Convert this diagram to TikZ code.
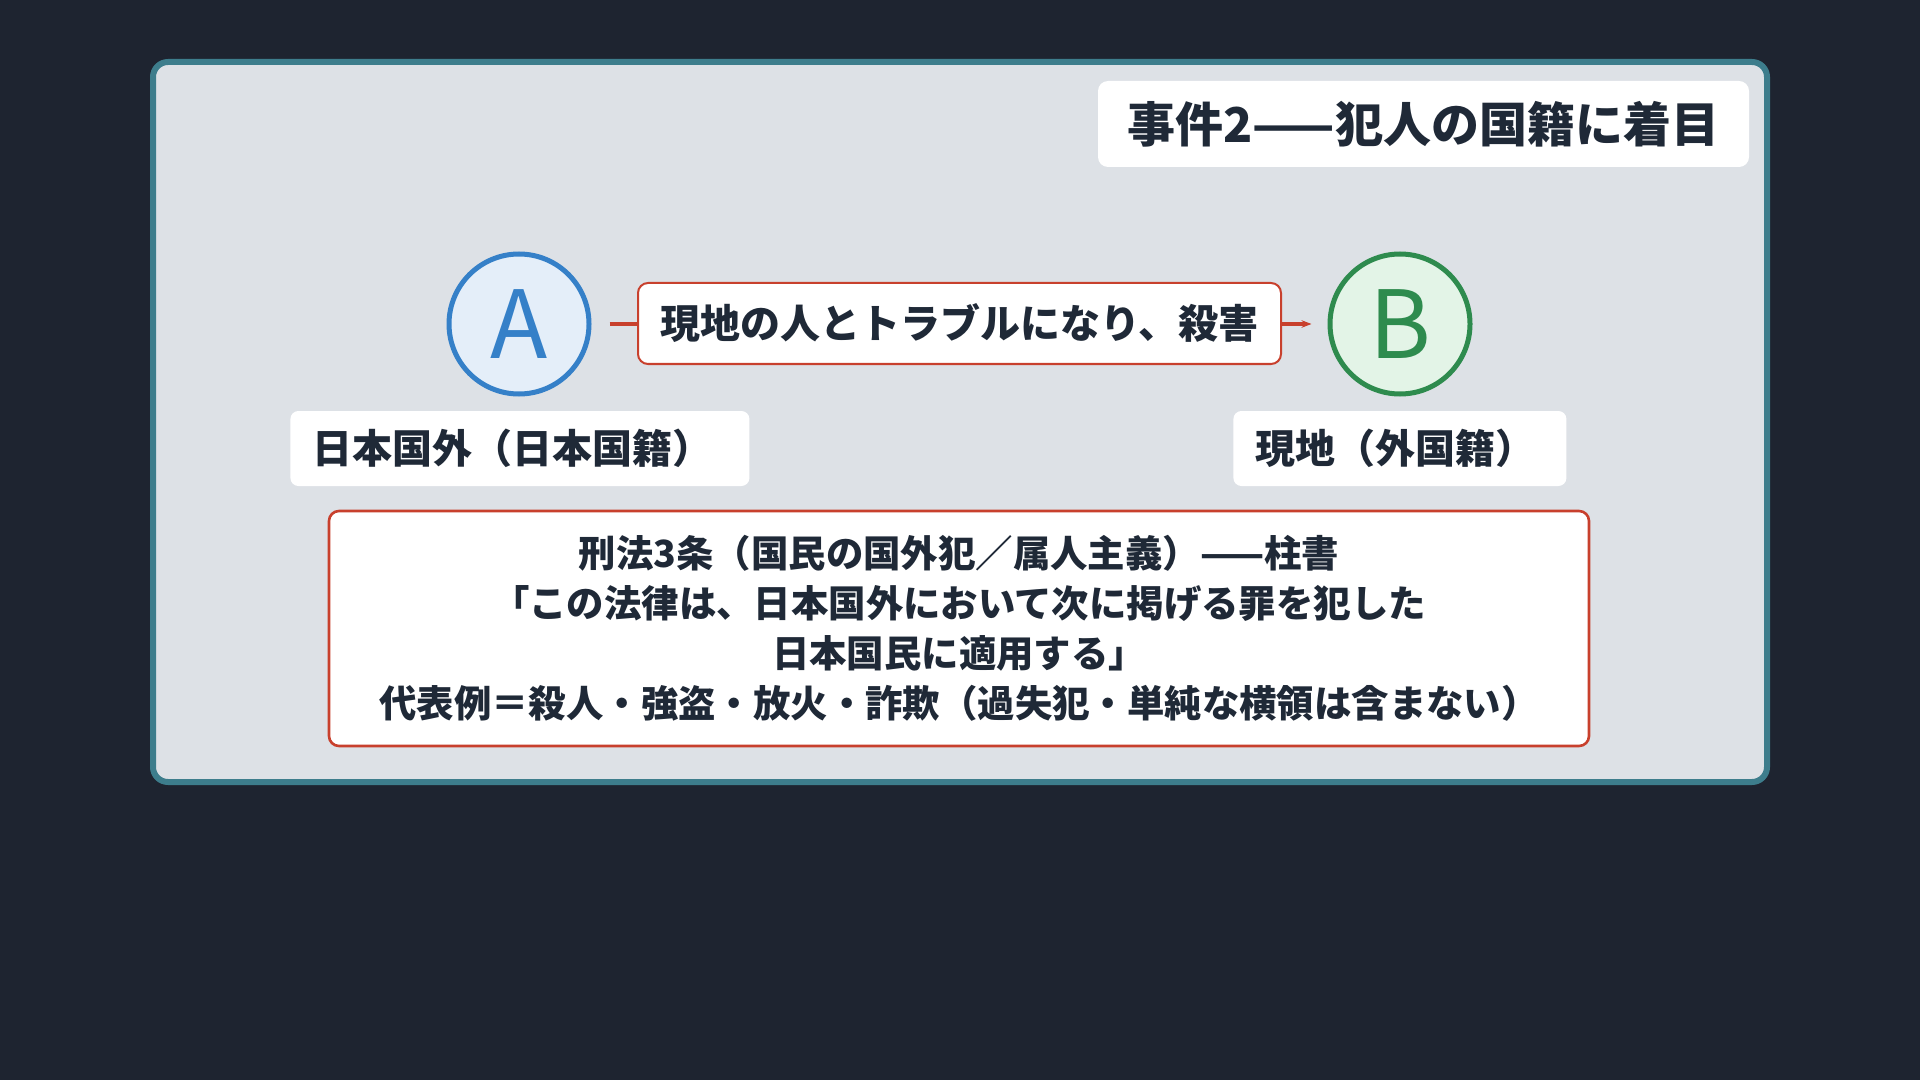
\documentclass[tikz,border=0pt]{standalone}
\usepackage{fontspec}
\setmainfont{Noto Sans CJK JP}
\usepackage{xcolor}
\usetikzlibrary{positioning,shapes.misc,arrows.meta}
\definecolor{fond}{RGB}{30,36,48}
\definecolor{panneau}{RGB}{221,225,230}
\definecolor{bordure}{RGB}{61,125,140}
\definecolor{encre}{RGB}{31,41,55}
\definecolor{bleu}{RGB}{53,128,200}
\definecolor{bleuclair}{RGB}{228,238,249}
\definecolor{vert}{RGB}{46,139,78}
\definecolor{vertclair}{RGB}{227,244,231}
\definecolor{rouge}{RGB}{200,64,45}

\begin{document}
\begin{tikzpicture}[x=0.5pt,y=-0.5pt,
    boite/.style={draw=rouge, fill=white, rounded corners=5pt, line width=1pt, text=encre},
    etiquette/.style={fill=white, rounded corners=4pt, text=encre, font=\fontsize{20}{24}\selectfont\bfseries,
        minimum height=37.5pt, inner xsep=11pt, align=left, anchor=west},
    personne/.style={circle, minimum size=70pt, inner sep=0pt, line width=2.5pt,
        font=\fontsize{47}{47}\selectfont}]
    \fill[fond] (0,0) rectangle (1920,1080);
    \draw[bordure, fill=panneau, line width=3pt, rounded corners=7.5pt] (153,62) rectangle (1767,782);

    \node[fill=white, rounded corners=5pt, text=encre, minimum width=325.5pt, minimum height=43pt,
        font=\fontsize{24}{28}\selectfont\bfseries] at (1423.5,124) (titre) {事件2——犯人の国籍に着目};

    \node[personne, draw=bleu, fill=bleuclair, text=bleu] at (519,324) (A) {A};
    \node[personne, draw=vert, fill=vertclair, text=vert] at (1400,324) (B) {B};

    \draw[-{Stealth[length=5pt]}, rouge, line width=1.8pt, shorten <=9pt, shorten >=8pt] (A) -- (B);
    \node[boite, minimum width=321.5pt, minimum height=40.5pt, font=\fontsize{20}{24}\selectfont\bfseries]
        at (959.5,323.5) (meurtre) {現地の人とトラブルになり、殺害};

    \node[etiquette, text width=207.5pt] at (290,448.5) (nationA) {日本国外（日本国籍）};
    \node[etiquette, text width=144.5pt] at (1233,448.5) (nationB) {現地（外国籍）};

    \node[boite, line width=1.3pt, minimum width=630pt, minimum height=117.5pt, align=center,
        font=\fontsize{18.7}{25}\selectfont\bfseries] at (959,628.5) (article) {刑法3条（国民の国外犯／属人主義）——柱書\\「この法律は、日本国外において次に掲げる罪を犯した\\日本国民に適用する」\\代表例＝殺人・強盗・放火・詐欺（過失犯・単純な横領は含まない）};
\end{tikzpicture}
\end{document}
